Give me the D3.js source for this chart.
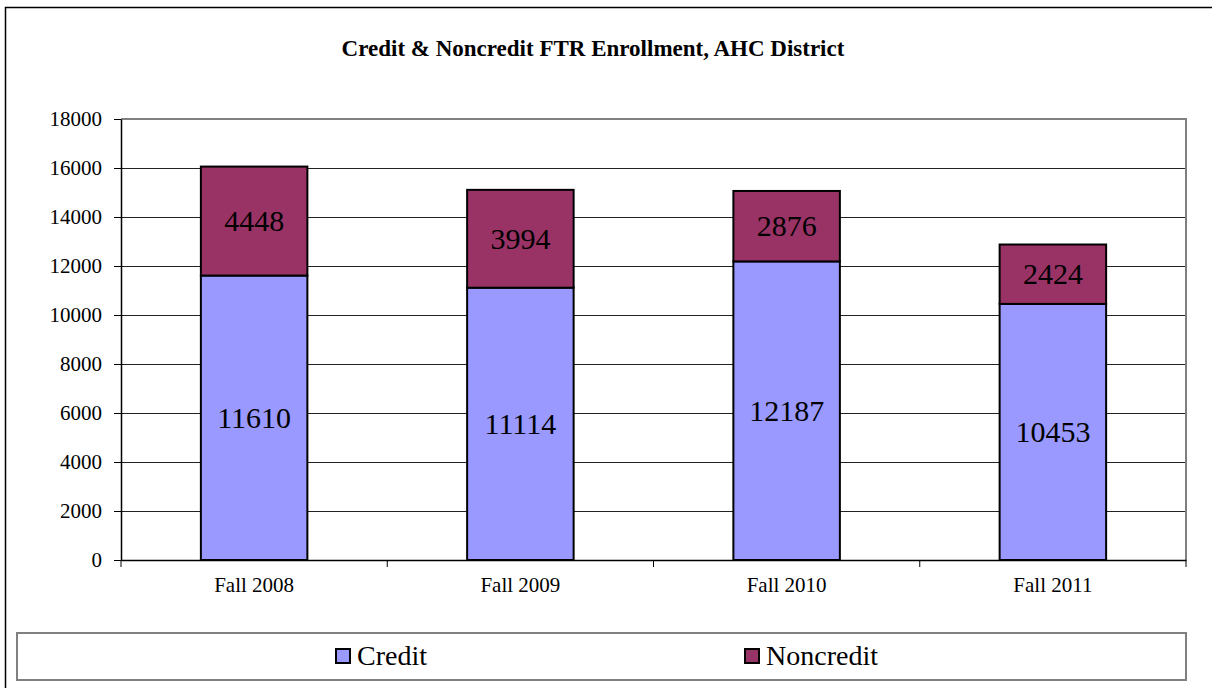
<!DOCTYPE html>
<html>
<head>
<meta charset="utf-8">
<script src="https://cdn.jsdelivr.net/npm/d3@7"></script>
<style>
  body { margin: 0; background: #fff; overflow: hidden; }
  svg text { font-family: "Liberation Serif", "Times New Roman", serif; }
</style>
</head>
<body>
<div id="chart"></div>
<script>
// chart values
var categories = ["Fall 2008", "Fall 2009", "Fall 2010", "Fall 2011"];
var creditValues = [11610, 11114, 12187, 10453];
var noncreditValues = [4448, 3994, 2876, 2424];
var seriesNames = ["Credit", "Noncredit"];
var seriesColors = ["#9999ff", "#993366"];
var yTicks = [0, 2000, 4000, 6000, 8000, 10000, 12000, 14000, 16000, 18000];

var svgWidth = 1212, svgHeight = 688;
var margin = {top: 119, right: 26, bottom: 128, left: 121};
var innerWidth = svgWidth - margin.left - margin.right;
var innerHeight = svgHeight - margin.top - margin.bottom;

var rows = categories.map(function(c, i) {
    return {cat: c, Credit: creditValues[i], Noncredit: noncreditValues[i]};
});
var stacked = d3.stack().keys(seriesNames)(rows);

var svg = d3.select("#chart").append("svg")
    .attr("width", svgWidth)
    .attr("height", svgHeight)
    .style("display", "block");

// outer chart border: only left and top edges are in view
svg.append("path")
    .attr("d", "M5.5," + svgHeight + "V7.5H" + svgWidth)
    .attr("fill", "none")
    .attr("stroke", "#000")
    .attr("stroke-width", 1.5);

svg.append("text")
    .attr("x", 593)
    .attr("y", 56)
    .attr("text-anchor", "middle")
    .style("font-size", "23px")
    .style("font-weight", "bold")
    .text("Credit & Noncredit FTR Enrollment, AHC District");

var xScale = d3.scaleBand()
    .domain(categories)
    .range([0, innerWidth])
    .paddingInner(0.6)
    .paddingOuter(0.3);

var yScale = d3.scaleLinear()
    .domain([0, 18000])
    .range([innerHeight, 0]);

var plot = svg.append("g")
    .attr("transform", "translate(" + margin.left + "," + margin.top + ")");

// gridlines
plot.append("g")
    .selectAll("line")
    .data(yTicks.filter(function(t){ return t > 0 && t < 18000; }))
    .enter().append("line")
    .attr("x1", 0).attr("x2", innerWidth)
    .attr("y1", function(d){ return Math.round(yScale(d)) + 0.5; })
    .attr("y2", function(d){ return Math.round(yScale(d)) + 0.5; })
    .attr("stroke", "#222")
    .attr("stroke-width", 1);

// plot border top & right (gray)
plot.append("path")
    .attr("d", "M0," + yScale(18000) + "H" + innerWidth + "V" + innerHeight)
    .attr("fill", "none")
    .attr("stroke", "#808080")
    .attr("stroke-width", 2);

// bars
var layers = plot.selectAll(".layer")
    .data(stacked)
    .enter().append("g")
    .attr("class", "layer")
    .attr("fill", function(d, i){ return seriesColors[i]; });

layers.selectAll("rect")
    .data(function(d){ return d; })
    .enter().append("rect")
    .attr("x", function(d){ return xScale(d.data.cat); })
    .attr("y", function(d){ return yScale(d[1]); })
    .attr("width", xScale.bandwidth())
    .attr("height", function(d){ return yScale(d[0]) - yScale(d[1]); })
    .attr("stroke", "#000")
    .attr("stroke-width", 2);

// value labels
plot.append("g").selectAll("g")
    .data(stacked)
    .enter().append("g")
    .selectAll("text")
    .data(function(d){ return d; })
    .enter().append("text")
    .attr("x", function(d){ return xScale(d.data.cat) + xScale.bandwidth() / 2; })
    .attr("y", function(d){ return (yScale(d[0]) + yScale(d[1])) / 2; })
    .attr("dy", "0.34em")
    .attr("text-anchor", "middle")
    .attr("fill", "#000")
    .style("font-size", "30px")
    .text(function(d){ return d[1] - d[0]; });

// y axis
var yAxis = d3.axisLeft(yScale).tickValues(yTicks).tickFormat(d3.format("d"))
    .tickSize(7).tickPadding(12).tickSizeOuter(0);
var yG = plot.append("g").call(yAxis);
yG.select(".domain").attr("stroke", "#000").attr("stroke-width", 1.5);
yG.selectAll(".tick line").attr("stroke", "#000");
yG.selectAll("text").style("font-size", "21px").attr("fill", "#000");

// x axis
var xAxis = d3.axisBottom(xScale).tickSize(0).tickPadding(17);
var xG = plot.append("g")
    .attr("transform", "translate(0," + innerHeight + ")")
    .call(xAxis);
xG.select(".domain").attr("stroke", "#000").attr("stroke-width", 1.5);
xG.selectAll("text").style("font-size", "21px").attr("fill", "#000");

// category boundary ticks
var bounds = d3.range(categories.length + 1).map(function(i){ return i * innerWidth / categories.length; });
xG.selectAll(".bound")
    .data(bounds)
    .enter().append("line")
    .attr("class", "bound")
    .attr("x1", function(d){ return d; }).attr("x2", function(d){ return d; })
    .attr("y1", 0).attr("y2", 7)
    .attr("stroke", "#000");

// legend
var legend = svg.append("g");
legend.append("rect")
    .attr("x", 17).attr("y", 633)
    .attr("width", 1169).attr("height", 47)
    .attr("fill", "#fff")
    .attr("stroke", "#808080")
    .attr("stroke-width", 2);

var legendX = [336, 745];
var items = legend.selectAll(".item")
    .data(seriesNames)
    .enter().append("g")
    .attr("class", "item")
    .attr("transform", function(d, i){ return "translate(" + legendX[i] + ",649)"; });

items.append("rect")
    .attr("width", 14).attr("height", 14)
    .attr("fill", function(d, i){ return seriesColors[i]; })
    .attr("stroke", "#000")
    .attr("stroke-width", 2);

items.append("text")
    .attr("x", 21)
    .attr("y", 16)
    .attr("fill", "#000")
    .style("font-size", "28px")
    .text(function(d){ return d; });
</script>
</body>
</html>
